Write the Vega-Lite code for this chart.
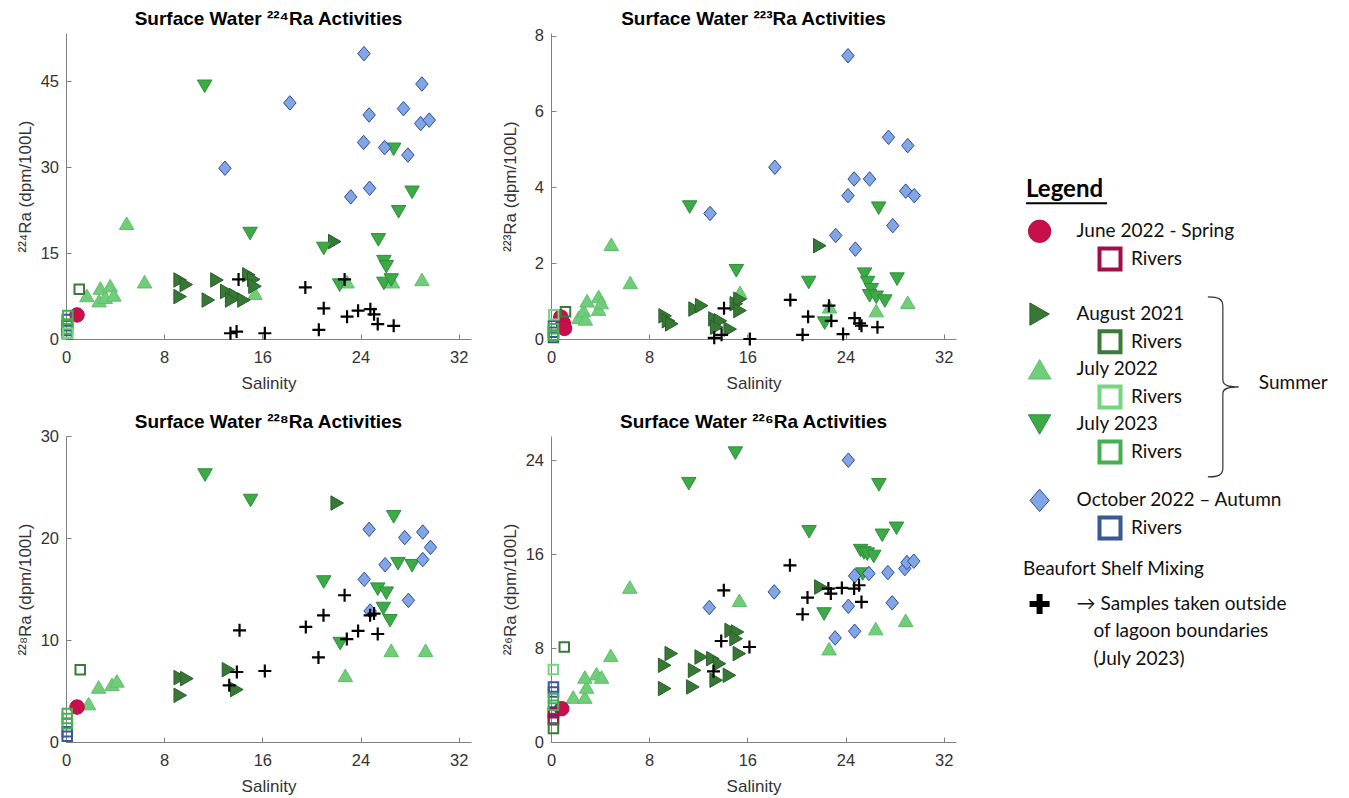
{
  "$schema": "https://vega.github.io/schema/vega-lite/v6.json",
  "background": "white",
  "padding": {"left": 16, "top": 9, "right": 2, "bottom": 2},
  "datasets": {
    "samples": [
      {"panel":"a","series":"July 2022","salinity":1.7,"activity":7.6},
      {"panel":"a","series":"July 2022","salinity":2.7,"activity":6.7},
      {"panel":"a","series":"July 2022","salinity":2.8,"activity":8.9},
      {"panel":"a","series":"July 2022","salinity":3.2,"activity":7.3},
      {"panel":"a","series":"July 2022","salinity":3.6,"activity":9.3},
      {"panel":"a","series":"July 2022","salinity":3.9,"activity":7.7},
      {"panel":"a","series":"July 2022","salinity":4.94,"activity":20.2},
      {"panel":"a","series":"July 2022","salinity":6.4,"activity":10.0},
      {"panel":"a","series":"July 2022","salinity":15.4,"activity":8.0},
      {"panel":"a","series":"July 2022","salinity":22.9,"activity":10.0},
      {"panel":"a","series":"July 2022","salinity":26.6,"activity":10.0},
      {"panel":"a","series":"July 2022","salinity":29.0,"activity":10.4},
      {"panel":"a","series":"August 2021","salinity":9.3,"activity":10.3},
      {"panel":"a","series":"August 2021","salinity":9.8,"activity":9.5},
      {"panel":"a","series":"August 2021","salinity":9.3,"activity":7.4},
      {"panel":"a","series":"August 2021","salinity":11.6,"activity":6.8},
      {"panel":"a","series":"August 2021","salinity":12.3,"activity":10.3},
      {"panel":"a","series":"August 2021","salinity":13.1,"activity":8.3},
      {"panel":"a","series":"August 2021","salinity":13.8,"activity":7.6},
      {"panel":"a","series":"August 2021","salinity":13.5,"activity":6.8},
      {"panel":"a","series":"August 2021","salinity":14.5,"activity":6.8},
      {"panel":"a","series":"August 2021","salinity":14.9,"activity":11.2},
      {"panel":"a","series":"August 2021","salinity":15.3,"activity":10.4},
      {"panel":"a","series":"August 2021","salinity":15.4,"activity":9.2},
      {"panel":"a","series":"August 2021","salinity":21.9,"activity":17.0},
      {"panel":"a","series":"July 2023","salinity":11.3,"activity":44.1},
      {"panel":"a","series":"July 2023","salinity":15.0,"activity":18.4},
      {"panel":"a","series":"July 2023","salinity":21.0,"activity":15.8},
      {"panel":"a","series":"July 2023","salinity":22.3,"activity":9.4},
      {"panel":"a","series":"July 2023","salinity":25.45,"activity":17.3},
      {"panel":"a","series":"July 2023","salinity":25.9,"activity":13.5},
      {"panel":"a","series":"July 2023","salinity":26.1,"activity":12.6},
      {"panel":"a","series":"July 2023","salinity":25.9,"activity":9.7},
      {"panel":"a","series":"July 2023","salinity":26.5,"activity":10.3},
      {"panel":"a","series":"July 2023","salinity":26.7,"activity":33.1},
      {"panel":"a","series":"July 2023","salinity":27.1,"activity":22.2},
      {"panel":"a","series":"July 2023","salinity":28.2,"activity":25.6},
      {"panel":"a","series":"October 2022","salinity":12.95,"activity":29.8},
      {"panel":"a","series":"October 2022","salinity":18.24,"activity":41.2},
      {"panel":"a","series":"October 2022","salinity":23.2,"activity":24.8},
      {"panel":"a","series":"October 2022","salinity":24.25,"activity":34.3},
      {"panel":"a","series":"October 2022","salinity":24.28,"activity":49.8},
      {"panel":"a","series":"October 2022","salinity":24.7,"activity":39.1},
      {"panel":"a","series":"October 2022","salinity":24.74,"activity":26.3},
      {"panel":"a","series":"October 2022","salinity":25.96,"activity":33.4},
      {"panel":"a","series":"October 2022","salinity":27.5,"activity":40.2},
      {"panel":"a","series":"October 2022","salinity":27.86,"activity":32.1},
      {"panel":"a","series":"October 2022","salinity":28.9,"activity":37.6},
      {"panel":"a","series":"October 2022","salinity":29.0,"activity":44.5},
      {"panel":"a","series":"October 2022","salinity":29.6,"activity":38.2},
      {"panel":"a","series":"June 2022","salinity":0.9,"activity":4.2},
      {"panel":"a","series":"October 2022 Rivers","salinity":0.1,"activity":3.4},
      {"panel":"a","series":"October 2022 Rivers","salinity":0.1,"activity":2.3},
      {"panel":"a","series":"October 2022 Rivers","salinity":0.1,"activity":1.5},
      {"panel":"a","series":"October 2022 Rivers","salinity":0.1,"activity":0.9},
      {"panel":"a","series":"July 2023 Rivers","salinity":0.15,"activity":4.1},
      {"panel":"a","series":"July 2023 Rivers","salinity":0.15,"activity":2.6},
      {"panel":"a","series":"July 2023 Rivers","salinity":0.15,"activity":1.8},
      {"panel":"a","series":"July 2022 Rivers","salinity":0.15,"activity":1.0},
      {"panel":"a","series":"August 2021 Rivers","salinity":1.08,"activity":8.7},
      {"panel":"a","series":"Beaufort Shelf Mixing","salinity":13.4,"activity":1.0},
      {"panel":"a","series":"Beaufort Shelf Mixing","salinity":13.9,"activity":1.3},
      {"panel":"a","series":"Beaufort Shelf Mixing","salinity":14.06,"activity":10.4},
      {"panel":"a","series":"Beaufort Shelf Mixing","salinity":16.2,"activity":1.0},
      {"panel":"a","series":"Beaufort Shelf Mixing","salinity":19.5,"activity":9.0},
      {"panel":"a","series":"Beaufort Shelf Mixing","salinity":20.6,"activity":1.6},
      {"panel":"a","series":"Beaufort Shelf Mixing","salinity":21.0,"activity":5.35},
      {"panel":"a","series":"Beaufort Shelf Mixing","salinity":22.7,"activity":10.4},
      {"panel":"a","series":"Beaufort Shelf Mixing","salinity":22.9,"activity":3.9},
      {"panel":"a","series":"Beaufort Shelf Mixing","salinity":23.8,"activity":4.95},
      {"panel":"a","series":"Beaufort Shelf Mixing","salinity":24.8,"activity":5.2},
      {"panel":"a","series":"Beaufort Shelf Mixing","salinity":25.1,"activity":4.3},
      {"panel":"a","series":"Beaufort Shelf Mixing","salinity":25.4,"activity":2.6},
      {"panel":"a","series":"Beaufort Shelf Mixing","salinity":26.7,"activity":2.3},

      {"panel":"b","series":"July 2022","salinity":2.26,"activity":0.57},
      {"panel":"b","series":"July 2022","salinity":2.66,"activity":0.75},
      {"panel":"b","series":"July 2022","salinity":2.8,"activity":0.53},
      {"panel":"b","series":"July 2022","salinity":2.94,"activity":1.01},
      {"panel":"b","series":"July 2022","salinity":3.88,"activity":1.12},
      {"panel":"b","series":"July 2022","salinity":3.88,"activity":0.79},
      {"panel":"b","series":"July 2022","salinity":4.1,"activity":0.96},
      {"panel":"b","series":"July 2022","salinity":4.91,"activity":2.5},
      {"panel":"b","series":"July 2022","salinity":6.46,"activity":1.49},
      {"panel":"b","series":"July 2022","salinity":15.4,"activity":1.23},
      {"panel":"b","series":"July 2022","salinity":22.7,"activity":0.85},
      {"panel":"b","series":"July 2022","salinity":26.5,"activity":0.75},
      {"panel":"b","series":"July 2022","salinity":29.07,"activity":0.97},
      {"panel":"b","series":"August 2021","salinity":9.3,"activity":0.61},
      {"panel":"b","series":"August 2021","salinity":9.57,"activity":0.48},
      {"panel":"b","series":"August 2021","salinity":9.84,"activity":0.4},
      {"panel":"b","series":"August 2021","salinity":11.74,"activity":0.79},
      {"panel":"b","series":"August 2021","salinity":12.28,"activity":0.88},
      {"panel":"b","series":"August 2021","salinity":13.36,"activity":0.53},
      {"panel":"b","series":"August 2021","salinity":13.8,"activity":0.48},
      {"panel":"b","series":"August 2021","salinity":13.5,"activity":0.31},
      {"panel":"b","series":"August 2021","salinity":14.6,"activity":0.26},
      {"panel":"b","series":"August 2021","salinity":15.1,"activity":0.93},
      {"panel":"b","series":"August 2021","salinity":15.4,"activity":1.05},
      {"panel":"b","series":"August 2021","salinity":15.4,"activity":0.75},
      {"panel":"b","series":"August 2021","salinity":21.9,"activity":2.46},
      {"panel":"b","series":"July 2023","salinity":11.3,"activity":3.48},
      {"panel":"b","series":"July 2023","salinity":15.1,"activity":1.8},
      {"panel":"b","series":"July 2023","salinity":21.0,"activity":1.49},
      {"panel":"b","series":"July 2023","salinity":22.3,"activity":0.42},
      {"panel":"b","series":"July 2023","salinity":25.55,"activity":1.71},
      {"panel":"b","series":"July 2023","salinity":25.8,"activity":1.49},
      {"panel":"b","series":"July 2023","salinity":26.1,"activity":1.3},
      {"panel":"b","series":"July 2023","salinity":25.96,"activity":1.14},
      {"panel":"b","series":"July 2023","salinity":26.5,"activity":1.1},
      {"panel":"b","series":"July 2023","salinity":26.7,"activity":3.45},
      {"panel":"b","series":"July 2023","salinity":27.2,"activity":1.0},
      {"panel":"b","series":"July 2023","salinity":28.2,"activity":1.58},
      {"panel":"b","series":"October 2022","salinity":12.96,"activity":3.31},
      {"panel":"b","series":"October 2022","salinity":18.24,"activity":4.53},
      {"panel":"b","series":"October 2022","salinity":23.2,"activity":2.73},
      {"panel":"b","series":"October 2022","salinity":24.2,"activity":3.78},
      {"panel":"b","series":"October 2022","salinity":24.2,"activity":7.47},
      {"panel":"b","series":"October 2022","salinity":24.7,"activity":4.22},
      {"panel":"b","series":"October 2022","salinity":24.8,"activity":2.37},
      {"panel":"b","series":"October 2022","salinity":25.96,"activity":4.22},
      {"panel":"b","series":"October 2022","salinity":27.5,"activity":5.32},
      {"panel":"b","series":"October 2022","salinity":27.85,"activity":2.99},
      {"panel":"b","series":"October 2022","salinity":28.9,"activity":3.9},
      {"panel":"b","series":"October 2022","salinity":29.07,"activity":5.1},
      {"panel":"b","series":"October 2022","salinity":29.6,"activity":3.78},
      {"panel":"b","series":"June 2022","salinity":0.8,"activity":0.58},
      {"panel":"b","series":"June 2022","salinity":1.0,"activity":0.42},
      {"panel":"b","series":"June 2022","salinity":1.1,"activity":0.28},
      {"panel":"b","series":"October 2022 Rivers","salinity":0.2,"activity":0.35},
      {"panel":"b","series":"October 2022 Rivers","salinity":0.2,"activity":0.18},
      {"panel":"b","series":"October 2022 Rivers","salinity":0.2,"activity":0.04},
      {"panel":"b","series":"July 2023 Rivers","salinity":0.2,"activity":0.27},
      {"panel":"b","series":"July 2023 Rivers","salinity":0.2,"activity":0.1},
      {"panel":"b","series":"July 2022 Rivers","salinity":0.23,"activity":0.64},
      {"panel":"b","series":"August 2021 Rivers","salinity":1.18,"activity":0.72},
      {"panel":"b","series":"Beaufort Shelf Mixing","salinity":13.3,"activity":0.03},
      {"panel":"b","series":"Beaufort Shelf Mixing","salinity":13.9,"activity":0.11},
      {"panel":"b","series":"Beaufort Shelf Mixing","salinity":14.1,"activity":0.81},
      {"panel":"b","series":"Beaufort Shelf Mixing","salinity":16.2,"activity":0.0},
      {"panel":"b","series":"Beaufort Shelf Mixing","salinity":19.5,"activity":1.03},
      {"panel":"b","series":"Beaufort Shelf Mixing","salinity":20.5,"activity":0.11},
      {"panel":"b","series":"Beaufort Shelf Mixing","salinity":20.95,"activity":0.59},
      {"panel":"b","series":"Beaufort Shelf Mixing","salinity":22.65,"activity":0.88},
      {"panel":"b","series":"Beaufort Shelf Mixing","salinity":22.84,"activity":0.48},
      {"panel":"b","series":"Beaufort Shelf Mixing","salinity":23.8,"activity":0.13},
      {"panel":"b","series":"Beaufort Shelf Mixing","salinity":24.74,"activity":0.55},
      {"panel":"b","series":"Beaufort Shelf Mixing","salinity":25.14,"activity":0.41},
      {"panel":"b","series":"Beaufort Shelf Mixing","salinity":25.3,"activity":0.35},
      {"panel":"b","series":"Beaufort Shelf Mixing","salinity":26.6,"activity":0.31},

      {"panel":"c","series":"July 2022","salinity":1.84,"activity":3.77},
      {"panel":"c","series":"July 2022","salinity":2.66,"activity":5.4},
      {"panel":"c","series":"July 2022","salinity":3.75,"activity":5.66},
      {"panel":"c","series":"July 2022","salinity":4.15,"activity":6.0},
      {"panel":"c","series":"July 2022","salinity":22.76,"activity":6.54},
      {"panel":"c","series":"July 2022","salinity":26.5,"activity":9.0},
      {"panel":"c","series":"July 2022","salinity":29.3,"activity":9.0},
      {"panel":"c","series":"August 2021","salinity":9.31,"activity":6.32},
      {"panel":"c","series":"August 2021","salinity":9.85,"activity":6.22},
      {"panel":"c","series":"August 2021","salinity":9.31,"activity":4.58},
      {"panel":"c","series":"August 2021","salinity":13.24,"activity":7.1},
      {"panel":"c","series":"August 2021","salinity":13.92,"activity":5.14},
      {"panel":"c","series":"August 2021","salinity":22.1,"activity":23.45},
      {"panel":"c","series":"July 2023","salinity":11.33,"activity":26.2},
      {"panel":"c","series":"July 2023","salinity":15.04,"activity":23.7},
      {"panel":"c","series":"July 2023","salinity":21.0,"activity":15.7},
      {"panel":"c","series":"July 2023","salinity":22.34,"activity":9.66},
      {"panel":"c","series":"July 2023","salinity":25.4,"activity":15.0},
      {"panel":"c","series":"July 2023","salinity":26.1,"activity":14.6},
      {"panel":"c","series":"July 2023","salinity":25.86,"activity":13.1},
      {"panel":"c","series":"July 2023","salinity":26.4,"activity":11.9},
      {"panel":"c","series":"July 2023","salinity":26.7,"activity":22.1},
      {"panel":"c","series":"July 2023","salinity":27.05,"activity":17.5},
      {"panel":"c","series":"July 2023","salinity":28.2,"activity":17.3},
      {"panel":"c","series":"October 2022","salinity":24.3,"activity":15.96},
      {"panel":"c","series":"October 2022","salinity":24.7,"activity":20.87},
      {"panel":"c","series":"October 2022","salinity":24.78,"activity":12.85},
      {"panel":"c","series":"October 2022","salinity":26.0,"activity":17.4},
      {"panel":"c","series":"October 2022","salinity":27.6,"activity":20.06},
      {"panel":"c","series":"October 2022","salinity":27.9,"activity":13.9},
      {"panel":"c","series":"October 2022","salinity":29.07,"activity":20.6},
      {"panel":"c","series":"October 2022","salinity":29.07,"activity":17.9},
      {"panel":"c","series":"October 2022","salinity":29.7,"activity":19.1},
      {"panel":"c","series":"June 2022","salinity":0.9,"activity":3.43},
      {"panel":"c","series":"October 2022 Rivers","salinity":0.1,"activity":1.0},
      {"panel":"c","series":"October 2022 Rivers","salinity":0.1,"activity":0.56},
      {"panel":"c","series":"July 2023 Rivers","salinity":0.1,"activity":2.8},
      {"panel":"c","series":"July 2023 Rivers","salinity":0.1,"activity":2.3},
      {"panel":"c","series":"July 2023 Rivers","salinity":0.1,"activity":1.8},
      {"panel":"c","series":"August 2021 Rivers","salinity":1.16,"activity":7.1},
      {"panel":"c","series":"Beaufort Shelf Mixing","salinity":13.3,"activity":5.56},
      {"panel":"c","series":"Beaufort Shelf Mixing","salinity":13.92,"activity":6.87},
      {"panel":"c","series":"Beaufort Shelf Mixing","salinity":14.14,"activity":10.96},
      {"panel":"c","series":"Beaufort Shelf Mixing","salinity":16.2,"activity":6.97},
      {"panel":"c","series":"Beaufort Shelf Mixing","salinity":19.54,"activity":11.29},
      {"panel":"c","series":"Beaufort Shelf Mixing","salinity":20.57,"activity":8.3},
      {"panel":"c","series":"Beaufort Shelf Mixing","salinity":20.98,"activity":12.43},
      {"panel":"c","series":"Beaufort Shelf Mixing","salinity":22.7,"activity":14.4},
      {"panel":"c","series":"Beaufort Shelf Mixing","salinity":22.88,"activity":10.1},
      {"panel":"c","series":"Beaufort Shelf Mixing","salinity":23.8,"activity":10.9},
      {"panel":"c","series":"Beaufort Shelf Mixing","salinity":24.78,"activity":12.43},
      {"panel":"c","series":"Beaufort Shelf Mixing","salinity":25.1,"activity":12.6},
      {"panel":"c","series":"Beaufort Shelf Mixing","salinity":25.4,"activity":10.6},

      {"panel":"d","series":"July 2022","salinity":1.81,"activity":3.83},
      {"panel":"d","series":"July 2022","salinity":2.76,"activity":3.83},
      {"panel":"d","series":"July 2022","salinity":2.9,"activity":4.69},
      {"panel":"d","series":"July 2022","salinity":2.76,"activity":5.54},
      {"panel":"d","series":"July 2022","salinity":3.71,"activity":5.82},
      {"panel":"d","series":"July 2022","salinity":4.12,"activity":5.54},
      {"panel":"d","series":"July 2022","salinity":4.87,"activity":7.38},
      {"panel":"d","series":"July 2022","salinity":6.42,"activity":13.2},
      {"panel":"d","series":"July 2022","salinity":15.35,"activity":12.07},
      {"panel":"d","series":"July 2022","salinity":22.66,"activity":7.95},
      {"panel":"d","series":"July 2022","salinity":26.46,"activity":9.66},
      {"panel":"d","series":"July 2022","salinity":28.9,"activity":10.37},
      {"panel":"d","series":"August 2021","salinity":9.26,"activity":4.55},
      {"panel":"d","series":"August 2021","salinity":9.26,"activity":6.53},
      {"panel":"d","series":"August 2021","salinity":9.8,"activity":7.53},
      {"panel":"d","series":"August 2021","salinity":11.56,"activity":4.69},
      {"panel":"d","series":"August 2021","salinity":11.7,"activity":6.1},
      {"panel":"d","series":"August 2021","salinity":12.24,"activity":7.24},
      {"panel":"d","series":"August 2021","salinity":13.19,"activity":7.1},
      {"panel":"d","series":"August 2021","salinity":13.46,"activity":5.26},
      {"panel":"d","series":"August 2021","salinity":13.73,"activity":6.67},
      {"panel":"d","series":"August 2021","salinity":14.54,"activity":5.68},
      {"panel":"d","series":"August 2021","salinity":14.68,"activity":9.5},
      {"panel":"d","series":"August 2021","salinity":15.2,"activity":9.37},
      {"panel":"d","series":"August 2021","salinity":15.08,"activity":8.8},
      {"panel":"d","series":"August 2021","salinity":15.35,"activity":7.53},
      {"panel":"d","series":"August 2021","salinity":21.99,"activity":13.2},
      {"panel":"d","series":"July 2023","salinity":11.23,"activity":22.0},
      {"panel":"d","series":"July 2023","salinity":15.02,"activity":24.6},
      {"panel":"d","series":"July 2023","salinity":21.03,"activity":17.9},
      {"panel":"d","series":"July 2023","salinity":22.25,"activity":10.9},
      {"panel":"d","series":"July 2023","salinity":25.23,"activity":16.3},
      {"panel":"d","series":"July 2023","salinity":25.5,"activity":16.1},
      {"panel":"d","series":"July 2023","salinity":25.77,"activity":16.0},
      {"panel":"d","series":"July 2023","salinity":26.3,"activity":15.8},
      {"panel":"d","series":"July 2023","salinity":25.4,"activity":14.3},
      {"panel":"d","series":"July 2023","salinity":26.72,"activity":21.9},
      {"panel":"d","series":"July 2023","salinity":26.99,"activity":17.6},
      {"panel":"d","series":"July 2023","salinity":28.15,"activity":18.2},
      {"panel":"d","series":"October 2022","salinity":12.9,"activity":11.45},
      {"panel":"d","series":"October 2022","salinity":18.19,"activity":12.78},
      {"panel":"d","series":"October 2022","salinity":23.15,"activity":8.86},
      {"panel":"d","series":"October 2022","salinity":24.23,"activity":11.56},
      {"panel":"d","series":"October 2022","salinity":24.23,"activity":24.0},
      {"panel":"d","series":"October 2022","salinity":24.74,"activity":14.15},
      {"panel":"d","series":"October 2022","salinity":24.74,"activity":9.43},
      {"panel":"d","series":"October 2022","salinity":25.9,"activity":14.35},
      {"panel":"d","series":"October 2022","salinity":27.45,"activity":14.43},
      {"panel":"d","series":"October 2022","salinity":27.8,"activity":11.85},
      {"panel":"d","series":"October 2022","salinity":28.83,"activity":14.77},
      {"panel":"d","series":"October 2022","salinity":29.0,"activity":15.28},
      {"panel":"d","series":"October 2022","salinity":29.56,"activity":15.4},
      {"panel":"d","series":"June 2022","salinity":0.87,"activity":2.84},
      {"panel":"d","series":"October 2022 Rivers","salinity":0.2,"activity":4.69},
      {"panel":"d","series":"October 2022 Rivers","salinity":0.2,"activity":4.26},
      {"panel":"d","series":"October 2022 Rivers","salinity":0.2,"activity":2.56},
      {"panel":"d","series":"October 2022 Rivers","salinity":0.2,"activity":2.0},
      {"panel":"d","series":"June 2022 Rivers","salinity":0.2,"activity":2.5},
      {"panel":"d","series":"June 2022 Rivers","salinity":0.2,"activity":1.9},
      {"panel":"d","series":"July 2023 Rivers","salinity":0.2,"activity":3.7},
      {"panel":"d","series":"July 2023 Rivers","salinity":0.2,"activity":3.13},
      {"panel":"d","series":"July 2022 Rivers","salinity":0.19,"activity":6.17},
      {"panel":"d","series":"August 2021 Rivers","salinity":1.08,"activity":8.1},
      {"panel":"d","series":"August 2021 Rivers","salinity":0.2,"activity":1.14},
      {"panel":"d","series":"Beaufort Shelf Mixing","salinity":13.24,"activity":6.02},
      {"panel":"d","series":"Beaufort Shelf Mixing","salinity":13.87,"activity":8.6},
      {"panel":"d","series":"Beaufort Shelf Mixing","salinity":14.08,"activity":12.92},
      {"panel":"d","series":"Beaufort Shelf Mixing","salinity":16.17,"activity":8.09},
      {"panel":"d","series":"Beaufort Shelf Mixing","salinity":19.47,"activity":15.05},
      {"panel":"d","series":"Beaufort Shelf Mixing","salinity":20.5,"activity":10.88},
      {"panel":"d","series":"Beaufort Shelf Mixing","salinity":20.9,"activity":12.3},
      {"panel":"d","series":"Beaufort Shelf Mixing","salinity":22.6,"activity":13.07},
      {"panel":"d","series":"Beaufort Shelf Mixing","salinity":22.8,"activity":12.64},
      {"panel":"d","series":"Beaufort Shelf Mixing","salinity":23.7,"activity":13.12},
      {"panel":"d","series":"Beaufort Shelf Mixing","salinity":24.7,"activity":13.07},
      {"panel":"d","series":"Beaufort Shelf Mixing","salinity":25.1,"activity":13.35},
      {"panel":"d","series":"Beaufort Shelf Mixing","salinity":25.3,"activity":11.93}
    ],
    "letters": [
      {"panel":"a","letter":"a"},
      {"panel":"b","letter":"b"},
      {"panel":"c","letter":"c"},
      {"panel":"d","letter":"d"}
    ],
    "legend": [
      {"key":"Legend","label":"Legend","tier":"heading"},
      {"key":"June 2022","label":"June 2022 - Spring","tier":"main","series":"June 2022"},
      {"key":"June 2022 Rivers","label":"Rivers","tier":"sub","series":"June 2022 Rivers"},
      {"key":"August 2021","label":"August 2021","tier":"main","series":"August 2021"},
      {"key":"August 2021 Rivers","label":"Rivers","tier":"sub","series":"August 2021 Rivers"},
      {"key":"July 2022","label":"July 2022","tier":"main","series":"July 2022"},
      {"key":"July 2022 Rivers","label":"Rivers","tier":"sub","series":"July 2022 Rivers"},
      {"key":"July 2023","label":"July 2023","tier":"main","series":"July 2023"},
      {"key":"July 2023 Rivers","label":"Rivers","tier":"sub","series":"July 2023 Rivers"},
      {"key":"Summer","label":"Summer","tier":"group"},
      {"key":"October 2022","label":"October 2022 – Autumn","tier":"main","series":"October 2022"},
      {"key":"October 2022 Rivers","label":"Rivers","tier":"sub","series":"October 2022 Rivers"},
      {"key":"Beaufort heading","label":"Beaufort Shelf Mixing","tier":"note"},
      {"key":"Beaufort Shelf Mixing","label":"→ Samples taken outside","tier":"main","series":"Beaufort Shelf Mixing"},
      {"key":"note line 2","label":"of lagoon boundaries","tier":"indent"},
      {"key":"note line 3","label":"(July 2023)","tier":"indent"}
    ]
  },
  "hconcat": [
    {
      "vconcat": [
        {
          "hconcat": [
            {
              "width": 405, "height": 306,
              "title": {"text": "Surface Water ²²⁴Ra Activities", "offset": 4},
              "data": {"name": "samples"},
              "encoding": {
                "x": {"field": "salinity", "type": "quantitative", "scale": {"domain": [0, 33], "nice": false}, "axis": {"title": "Salinity", "values": [0, 8, 16, 24, 32]}},
                "y": {"field": "activity", "type": "quantitative", "scale": {"domain": [0, 53.4], "nice": false}, "axis": {"title": "²²⁴Ra (dpm/100L)", "values": [0, 15, 30, 45]}}
              },
              "layer": [
                {
                  "transform": [{"filter": "datum.panel === 'a' && indexof(['June 2022','August 2021','July 2022','July 2023','October 2022'], datum.series) >= 0"}],
                  "mark": {"type": "point", "filled": true, "size": 210, "strokeWidth": 1, "opacity": 1},
                  "encoding": {
                    "shape": {"field": "series", "type": "nominal", "legend": null, "scale": {"domain": ["June 2022","June 2022 Rivers","August 2021","August 2021 Rivers","July 2022","July 2022 Rivers","July 2023","July 2023 Rivers","October 2022","October 2022 Rivers","Beaufort Shelf Mixing"], "range": ["circle","square","triangle-right","square","triangle-up","square","triangle-down","square","M0,-1L0.86,0L0,1L-0.86,0Z","square","M-1,0H1M0,-1V1"]}},
                    "fill": {"field": "series", "type": "nominal", "legend": null, "scale": {"domain": ["June 2022","June 2022 Rivers","August 2021","August 2021 Rivers","July 2022","July 2022 Rivers","July 2023","July 2023 Rivers","October 2022","October 2022 Rivers","Beaufort Shelf Mixing"], "range": ["#C80F4B","transparent","#377837","transparent","#70CE7A","transparent","#3CAA46","transparent","#82A5E6","transparent","transparent"]}},
                    "stroke": {"field": "series", "type": "nominal", "legend": null, "scale": {"domain": ["June 2022","June 2022 Rivers","August 2021","August 2021 Rivers","July 2022","July 2022 Rivers","July 2023","July 2023 Rivers","October 2022","October 2022 Rivers","Beaufort Shelf Mixing"], "range": ["#B00D42","#A01048","#2A5E2A","#3A7A3A","#5EBE69","#74D67E","#2F8F39","#45B04F","#2D4B96","#3B5796","#000000"]}}
                  }
                },
                {
                  "transform": [{"filter": "datum.panel === 'a' && indexof(datum.series, 'Rivers') >= 0"}],
                  "mark": {"type": "point", "filled": false, "size": 90, "strokeWidth": 2, "opacity": 1},
                  "encoding": {
                    "shape": {"field": "series", "type": "nominal", "legend": null, "scale": {"domain": ["June 2022","June 2022 Rivers","August 2021","August 2021 Rivers","July 2022","July 2022 Rivers","July 2023","July 2023 Rivers","October 2022","October 2022 Rivers","Beaufort Shelf Mixing"], "range": ["circle","square","triangle-right","square","triangle-up","square","triangle-down","square","M0,-1L0.86,0L0,1L-0.86,0Z","square","M-1,0H1M0,-1V1"]}},
                    "stroke": {"field": "series", "type": "nominal", "legend": null, "scale": {"domain": ["June 2022","June 2022 Rivers","August 2021","August 2021 Rivers","July 2022","July 2022 Rivers","July 2023","July 2023 Rivers","October 2022","October 2022 Rivers","Beaufort Shelf Mixing"], "range": ["#B00D42","#A01048","#2A5E2A","#3A7A3A","#5EBE69","#74D67E","#2F8F39","#45B04F","#2D4B96","#3B5796","#000000"]}}
                  }
                },
                {
                  "transform": [{"filter": "datum.panel === 'a' && datum.series === 'Beaufort Shelf Mixing'"}],
                  "mark": {"type": "point", "filled": false, "size": 169, "strokeWidth": 2.2, "opacity": 1},
                  "encoding": {
                    "shape": {"field": "series", "type": "nominal", "legend": null, "scale": {"domain": ["June 2022","June 2022 Rivers","August 2021","August 2021 Rivers","July 2022","July 2022 Rivers","July 2023","July 2023 Rivers","October 2022","October 2022 Rivers","Beaufort Shelf Mixing"], "range": ["circle","square","triangle-right","square","triangle-up","square","triangle-down","square","M0,-1L0.86,0L0,1L-0.86,0Z","square","M-1,0H1M0,-1V1"]}},
                    "stroke": {"field": "series", "type": "nominal", "legend": null, "scale": {"domain": ["June 2022","June 2022 Rivers","August 2021","August 2021 Rivers","July 2022","July 2022 Rivers","July 2023","July 2023 Rivers","October 2022","October 2022 Rivers","Beaufort Shelf Mixing"], "range": ["#B00D42","#A01048","#2A5E2A","#3A7A3A","#5EBE69","#74D67E","#2F8F39","#45B04F","#2D4B96","#3B5796","#000000"]}}
                  }
                },
                {
                  "data": {"name": "letters"},
                  "transform": [{"filter": "datum.panel === 'a'"}],
                  "mark": {"type": "text", "font": "Lato", "fontSize": 25, "align": "left", "baseline": "alphabetic", "color": "#000000"},
                  "encoding": {"x": {"datum": 1.87, "type": "quantitative"}, "y": {"datum": 47.3, "type": "quantitative"}, "text": {"field": "letter"}}
                }
              ]
            },
            {
              "width": 405, "height": 306,
              "title": {"text": "Surface Water ²²³Ra Activities", "offset": -1},
              "data": {"name": "samples"},
              "encoding": {
                "x": {"field": "salinity", "type": "quantitative", "scale": {"domain": [0, 33], "nice": false}, "axis": {"title": "Salinity", "values": [0, 8, 16, 24, 32]}},
                "y": {"field": "activity", "type": "quantitative", "scale": {"domain": [0, 8.07], "nice": false}, "axis": {"title": "²²³Ra (dpm/100L)", "values": [0, 2, 4, 6, 8]}}
              },
              "layer": [
                {
                  "transform": [{"filter": "datum.panel === 'b' && indexof(['June 2022','August 2021','July 2022','July 2023','October 2022'], datum.series) >= 0"}],
                  "mark": {"type": "point", "filled": true, "size": 210, "strokeWidth": 1, "opacity": 1},
                  "encoding": {
                    "shape": {"field": "series", "type": "nominal", "legend": null, "scale": {"domain": ["June 2022","June 2022 Rivers","August 2021","August 2021 Rivers","July 2022","July 2022 Rivers","July 2023","July 2023 Rivers","October 2022","October 2022 Rivers","Beaufort Shelf Mixing"], "range": ["circle","square","triangle-right","square","triangle-up","square","triangle-down","square","M0,-1L0.86,0L0,1L-0.86,0Z","square","M-1,0H1M0,-1V1"]}},
                    "fill": {"field": "series", "type": "nominal", "legend": null, "scale": {"domain": ["June 2022","June 2022 Rivers","August 2021","August 2021 Rivers","July 2022","July 2022 Rivers","July 2023","July 2023 Rivers","October 2022","October 2022 Rivers","Beaufort Shelf Mixing"], "range": ["#C80F4B","transparent","#377837","transparent","#70CE7A","transparent","#3CAA46","transparent","#82A5E6","transparent","transparent"]}},
                    "stroke": {"field": "series", "type": "nominal", "legend": null, "scale": {"domain": ["June 2022","June 2022 Rivers","August 2021","August 2021 Rivers","July 2022","July 2022 Rivers","July 2023","July 2023 Rivers","October 2022","October 2022 Rivers","Beaufort Shelf Mixing"], "range": ["#B00D42","#A01048","#2A5E2A","#3A7A3A","#5EBE69","#74D67E","#2F8F39","#45B04F","#2D4B96","#3B5796","#000000"]}}
                  }
                },
                {
                  "transform": [{"filter": "datum.panel === 'b' && indexof(datum.series, 'Rivers') >= 0"}],
                  "mark": {"type": "point", "filled": false, "size": 90, "strokeWidth": 2, "opacity": 1},
                  "encoding": {
                    "shape": {"field": "series", "type": "nominal", "legend": null, "scale": {"domain": ["June 2022","June 2022 Rivers","August 2021","August 2021 Rivers","July 2022","July 2022 Rivers","July 2023","July 2023 Rivers","October 2022","October 2022 Rivers","Beaufort Shelf Mixing"], "range": ["circle","square","triangle-right","square","triangle-up","square","triangle-down","square","M0,-1L0.86,0L0,1L-0.86,0Z","square","M-1,0H1M0,-1V1"]}},
                    "stroke": {"field": "series", "type": "nominal", "legend": null, "scale": {"domain": ["June 2022","June 2022 Rivers","August 2021","August 2021 Rivers","July 2022","July 2022 Rivers","July 2023","July 2023 Rivers","October 2022","October 2022 Rivers","Beaufort Shelf Mixing"], "range": ["#B00D42","#A01048","#2A5E2A","#3A7A3A","#5EBE69","#74D67E","#2F8F39","#45B04F","#2D4B96","#3B5796","#000000"]}}
                  }
                },
                {
                  "transform": [{"filter": "datum.panel === 'b' && datum.series === 'Beaufort Shelf Mixing'"}],
                  "mark": {"type": "point", "filled": false, "size": 169, "strokeWidth": 2.2, "opacity": 1},
                  "encoding": {
                    "shape": {"field": "series", "type": "nominal", "legend": null, "scale": {"domain": ["June 2022","June 2022 Rivers","August 2021","August 2021 Rivers","July 2022","July 2022 Rivers","July 2023","July 2023 Rivers","October 2022","October 2022 Rivers","Beaufort Shelf Mixing"], "range": ["circle","square","triangle-right","square","triangle-up","square","triangle-down","square","M0,-1L0.86,0L0,1L-0.86,0Z","square","M-1,0H1M0,-1V1"]}},
                    "stroke": {"field": "series", "type": "nominal", "legend": null, "scale": {"domain": ["June 2022","June 2022 Rivers","August 2021","August 2021 Rivers","July 2022","July 2022 Rivers","July 2023","July 2023 Rivers","October 2022","October 2022 Rivers","Beaufort Shelf Mixing"], "range": ["#B00D42","#A01048","#2A5E2A","#3A7A3A","#5EBE69","#74D67E","#2F8F39","#45B04F","#2D4B96","#3B5796","#000000"]}}
                  }
                },
                {
                  "data": {"name": "letters"},
                  "transform": [{"filter": "datum.panel === 'b'"}],
                  "mark": {"type": "text", "font": "Lato", "fontSize": 25, "align": "left", "baseline": "alphabetic", "color": "#000000"},
                  "encoding": {"x": {"datum": 2.36, "type": "quantitative"}, "y": {"datum": 7.12, "type": "quantitative"}, "text": {"field": "letter"}}
                }
              ]
            }
          ],
          "spacing": 30
        },
        {
          "hconcat": [
            {
              "width": 405, "height": 306,
              "title": {"text": "Surface Water ²²⁸Ra Activities", "offset": -4},
              "data": {"name": "samples"},
              "encoding": {
                "x": {"field": "salinity", "type": "quantitative", "scale": {"domain": [0, 33], "nice": false}, "axis": {"title": "Salinity", "values": [0, 8, 16, 24, 32]}},
                "y": {"field": "activity", "type": "quantitative", "scale": {"domain": [0, 30.03], "nice": false}, "axis": {"title": "²²⁸Ra (dpm/100L)", "values": [0, 10, 20, 30]}}
              },
              "layer": [
                {
                  "transform": [{"filter": "datum.panel === 'c' && indexof(['June 2022','August 2021','July 2022','July 2023','October 2022'], datum.series) >= 0"}],
                  "mark": {"type": "point", "filled": true, "size": 210, "strokeWidth": 1, "opacity": 1},
                  "encoding": {
                    "shape": {"field": "series", "type": "nominal", "legend": null, "scale": {"domain": ["June 2022","June 2022 Rivers","August 2021","August 2021 Rivers","July 2022","July 2022 Rivers","July 2023","July 2023 Rivers","October 2022","October 2022 Rivers","Beaufort Shelf Mixing"], "range": ["circle","square","triangle-right","square","triangle-up","square","triangle-down","square","M0,-1L0.86,0L0,1L-0.86,0Z","square","M-1,0H1M0,-1V1"]}},
                    "fill": {"field": "series", "type": "nominal", "legend": null, "scale": {"domain": ["June 2022","June 2022 Rivers","August 2021","August 2021 Rivers","July 2022","July 2022 Rivers","July 2023","July 2023 Rivers","October 2022","October 2022 Rivers","Beaufort Shelf Mixing"], "range": ["#C80F4B","transparent","#377837","transparent","#70CE7A","transparent","#3CAA46","transparent","#82A5E6","transparent","transparent"]}},
                    "stroke": {"field": "series", "type": "nominal", "legend": null, "scale": {"domain": ["June 2022","June 2022 Rivers","August 2021","August 2021 Rivers","July 2022","July 2022 Rivers","July 2023","July 2023 Rivers","October 2022","October 2022 Rivers","Beaufort Shelf Mixing"], "range": ["#B00D42","#A01048","#2A5E2A","#3A7A3A","#5EBE69","#74D67E","#2F8F39","#45B04F","#2D4B96","#3B5796","#000000"]}}
                  }
                },
                {
                  "transform": [{"filter": "datum.panel === 'c' && indexof(datum.series, 'Rivers') >= 0"}],
                  "mark": {"type": "point", "filled": false, "size": 90, "strokeWidth": 2, "opacity": 1},
                  "encoding": {
                    "shape": {"field": "series", "type": "nominal", "legend": null, "scale": {"domain": ["June 2022","June 2022 Rivers","August 2021","August 2021 Rivers","July 2022","July 2022 Rivers","July 2023","July 2023 Rivers","October 2022","October 2022 Rivers","Beaufort Shelf Mixing"], "range": ["circle","square","triangle-right","square","triangle-up","square","triangle-down","square","M0,-1L0.86,0L0,1L-0.86,0Z","square","M-1,0H1M0,-1V1"]}},
                    "stroke": {"field": "series", "type": "nominal", "legend": null, "scale": {"domain": ["June 2022","June 2022 Rivers","August 2021","August 2021 Rivers","July 2022","July 2022 Rivers","July 2023","July 2023 Rivers","October 2022","October 2022 Rivers","Beaufort Shelf Mixing"], "range": ["#B00D42","#A01048","#2A5E2A","#3A7A3A","#5EBE69","#74D67E","#2F8F39","#45B04F","#2D4B96","#3B5796","#000000"]}}
                  }
                },
                {
                  "transform": [{"filter": "datum.panel === 'c' && datum.series === 'Beaufort Shelf Mixing'"}],
                  "mark": {"type": "point", "filled": false, "size": 169, "strokeWidth": 2.2, "opacity": 1},
                  "encoding": {
                    "shape": {"field": "series", "type": "nominal", "legend": null, "scale": {"domain": ["June 2022","June 2022 Rivers","August 2021","August 2021 Rivers","July 2022","July 2022 Rivers","July 2023","July 2023 Rivers","October 2022","October 2022 Rivers","Beaufort Shelf Mixing"], "range": ["circle","square","triangle-right","square","triangle-up","square","triangle-down","square","M0,-1L0.86,0L0,1L-0.86,0Z","square","M-1,0H1M0,-1V1"]}},
                    "stroke": {"field": "series", "type": "nominal", "legend": null, "scale": {"domain": ["June 2022","June 2022 Rivers","August 2021","August 2021 Rivers","July 2022","July 2022 Rivers","July 2023","July 2023 Rivers","October 2022","October 2022 Rivers","Beaufort Shelf Mixing"], "range": ["#B00D42","#A01048","#2A5E2A","#3A7A3A","#5EBE69","#74D67E","#2F8F39","#45B04F","#2D4B96","#3B5796","#000000"]}}
                  }
                },
                {
                  "data": {"name": "letters"},
                  "transform": [{"filter": "datum.panel === 'c'"}],
                  "mark": {"type": "text", "font": "Lato", "fontSize": 25, "align": "left", "baseline": "alphabetic", "color": "#000000"},
                  "encoding": {"x": {"datum": 1.9, "type": "quantitative"}, "y": {"datum": 27.0, "type": "quantitative"}, "text": {"field": "letter"}}
                }
              ]
            },
            {
              "width": 405, "height": 306,
              "title": {"text": "Surface Water ²²⁶Ra Activities", "offset": 4},
              "data": {"name": "samples"},
              "encoding": {
                "x": {"field": "salinity", "type": "quantitative", "scale": {"domain": [0, 33], "nice": false}, "axis": {"title": "Salinity", "values": [0, 8, 16, 24, 32]}},
                "y": {"field": "activity", "type": "quantitative", "scale": {"domain": [0, 26.06], "nice": false}, "axis": {"title": "²²⁶Ra (dpm/100L)", "values": [0, 8, 16, 24]}}
              },
              "layer": [
                {
                  "transform": [{"filter": "datum.panel === 'd' && indexof(['June 2022','August 2021','July 2022','July 2023','October 2022'], datum.series) >= 0"}],
                  "mark": {"type": "point", "filled": true, "size": 210, "strokeWidth": 1, "opacity": 1},
                  "encoding": {
                    "shape": {"field": "series", "type": "nominal", "legend": null, "scale": {"domain": ["June 2022","June 2022 Rivers","August 2021","August 2021 Rivers","July 2022","July 2022 Rivers","July 2023","July 2023 Rivers","October 2022","October 2022 Rivers","Beaufort Shelf Mixing"], "range": ["circle","square","triangle-right","square","triangle-up","square","triangle-down","square","M0,-1L0.86,0L0,1L-0.86,0Z","square","M-1,0H1M0,-1V1"]}},
                    "fill": {"field": "series", "type": "nominal", "legend": null, "scale": {"domain": ["June 2022","June 2022 Rivers","August 2021","August 2021 Rivers","July 2022","July 2022 Rivers","July 2023","July 2023 Rivers","October 2022","October 2022 Rivers","Beaufort Shelf Mixing"], "range": ["#C80F4B","transparent","#377837","transparent","#70CE7A","transparent","#3CAA46","transparent","#82A5E6","transparent","transparent"]}},
                    "stroke": {"field": "series", "type": "nominal", "legend": null, "scale": {"domain": ["June 2022","June 2022 Rivers","August 2021","August 2021 Rivers","July 2022","July 2022 Rivers","July 2023","July 2023 Rivers","October 2022","October 2022 Rivers","Beaufort Shelf Mixing"], "range": ["#B00D42","#A01048","#2A5E2A","#3A7A3A","#5EBE69","#74D67E","#2F8F39","#45B04F","#2D4B96","#3B5796","#000000"]}}
                  }
                },
                {
                  "transform": [{"filter": "datum.panel === 'd' && indexof(datum.series, 'Rivers') >= 0"}],
                  "mark": {"type": "point", "filled": false, "size": 90, "strokeWidth": 2, "opacity": 1},
                  "encoding": {
                    "shape": {"field": "series", "type": "nominal", "legend": null, "scale": {"domain": ["June 2022","June 2022 Rivers","August 2021","August 2021 Rivers","July 2022","July 2022 Rivers","July 2023","July 2023 Rivers","October 2022","October 2022 Rivers","Beaufort Shelf Mixing"], "range": ["circle","square","triangle-right","square","triangle-up","square","triangle-down","square","M0,-1L0.86,0L0,1L-0.86,0Z","square","M-1,0H1M0,-1V1"]}},
                    "stroke": {"field": "series", "type": "nominal", "legend": null, "scale": {"domain": ["June 2022","June 2022 Rivers","August 2021","August 2021 Rivers","July 2022","July 2022 Rivers","July 2023","July 2023 Rivers","October 2022","October 2022 Rivers","Beaufort Shelf Mixing"], "range": ["#B00D42","#A01048","#2A5E2A","#3A7A3A","#5EBE69","#74D67E","#2F8F39","#45B04F","#2D4B96","#3B5796","#000000"]}}
                  }
                },
                {
                  "transform": [{"filter": "datum.panel === 'd' && datum.series === 'Beaufort Shelf Mixing'"}],
                  "mark": {"type": "point", "filled": false, "size": 169, "strokeWidth": 2.2, "opacity": 1},
                  "encoding": {
                    "shape": {"field": "series", "type": "nominal", "legend": null, "scale": {"domain": ["June 2022","June 2022 Rivers","August 2021","August 2021 Rivers","July 2022","July 2022 Rivers","July 2023","July 2023 Rivers","October 2022","October 2022 Rivers","Beaufort Shelf Mixing"], "range": ["circle","square","triangle-right","square","triangle-up","square","triangle-down","square","M0,-1L0.86,0L0,1L-0.86,0Z","square","M-1,0H1M0,-1V1"]}},
                    "stroke": {"field": "series", "type": "nominal", "legend": null, "scale": {"domain": ["June 2022","June 2022 Rivers","August 2021","August 2021 Rivers","July 2022","July 2022 Rivers","July 2023","July 2023 Rivers","October 2022","October 2022 Rivers","Beaufort Shelf Mixing"], "range": ["#B00D42","#A01048","#2A5E2A","#3A7A3A","#5EBE69","#74D67E","#2F8F39","#45B04F","#2D4B96","#3B5796","#000000"]}}
                  }
                },
                {
                  "data": {"name": "letters"},
                  "transform": [{"filter": "datum.panel === 'd'"}],
                  "mark": {"type": "text", "font": "Lato", "fontSize": 25, "align": "left", "baseline": "alphabetic", "color": "#000000"},
                  "encoding": {"x": {"datum": 2.36, "type": "quantitative"}, "y": {"datum": 23.4, "type": "quantitative"}, "text": {"field": "letter"}}
                }
              ]
            }
          ],
          "spacing": 30
        }
      ],
      "spacing": 22
    },
    {
      "width": 228.8,
      "height": 631.2,
      "data": {"name": "legend"},
      "encoding": {
        "y": {"field": "key", "type": "nominal", "axis": null, "scale": {"type": "point", "padding": 0.74, "domain": ["t1","t2","t3","t4","t5","t6","t7","t8","t9","t10","t11","t12","t13","t14","t15","t16","t17","t18","t19","t20","t21","t22","Legend","y1","y2","y3","y4","y5","June 2022","y7","y8","y9","June 2022 Rivers","y11","y12","y13","y14","y15","y16","y17","August 2021","y19","y20","y21","August 2021 Rivers","y23","y24","y25","July 2022","y27","Summer","y29","July 2022 Rivers","y31","y32","y33","July 2023","y35","y36","y37","July 2023 Rivers","y39","y40","y41","y42","y43","y44","October 2022","y46","y47","y48","October 2022 Rivers","y50","y51","y52","y53","y54","Beaufort heading","y56","y57","y58","y59","Beaufort Shelf Mixing","y61","y62","y63","note line 2","y65","y66","y67","note line 3"]}}
      },
      "layer": [
        {
          "transform": [{"filter": "datum.tier === 'heading'"}],
          "mark": {"type": "text", "font": "Lato", "fontSize": 24, "fontWeight": "bold", "align": "left", "baseline": "middle", "dx": 4, "color": "#000000"},
          "encoding": {
            "x": {"datum": "note", "type": "nominal", "axis": null, "scale": {"type": "point", "padding": 0, "domain": ["note","main","x2","x3","indent","sub","x6","x7","x8","x9","x10","brace","x12","summer"]}},
            "text": {"field": "label"}
          }
        },
        {
          "transform": [{"filter": "datum.tier === 'heading'"}],
          "mark": {"type": "point", "shape": "M0.1,0.33H2.1", "size": 6561, "filled": false, "stroke": "#000000", "strokeWidth": 1.8, "opacity": 1},
          "encoding": {
            "x": {"datum": "note", "type": "nominal", "axis": null, "scale": {"type": "point", "padding": 0, "domain": ["note","main","x2","x3","indent","sub","x6","x7","x8","x9","x10","brace","x12","summer"]}}
          }
        },
        {
          "transform": [{"filter": "datum.tier === 'main' && datum.series !== 'Beaufort Shelf Mixing'"}],
          "mark": {"type": "point", "filled": true, "size": 500, "strokeWidth": 1, "opacity": 1},
          "encoding": {
            "x": {"field": "tier", "type": "nominal", "axis": null, "scale": {"type": "point", "padding": 0, "domain": ["note","main","x2","x3","indent","sub","x6","x7","x8","x9","x10","brace","x12","summer"]}},
            "shape": {"field": "series", "type": "nominal", "legend": null, "scale": {"domain": ["June 2022","June 2022 Rivers","August 2021","August 2021 Rivers","July 2022","July 2022 Rivers","July 2023","July 2023 Rivers","October 2022","October 2022 Rivers","Beaufort Shelf Mixing"], "range": ["circle","square","triangle-right","square","triangle-up","square","triangle-down","square","M0,-1L0.86,0L0,1L-0.86,0Z","square","M-1,0H1M0,-1V1"]}},
            "fill": {"field": "series", "type": "nominal", "legend": null, "scale": {"domain": ["June 2022","June 2022 Rivers","August 2021","August 2021 Rivers","July 2022","July 2022 Rivers","July 2023","July 2023 Rivers","October 2022","October 2022 Rivers","Beaufort Shelf Mixing"], "range": ["#C80F4B","transparent","#377837","transparent","#70CE7A","transparent","#3CAA46","transparent","#82A5E6","transparent","transparent"]}},
            "stroke": {"field": "series", "type": "nominal", "legend": null, "scale": {"domain": ["June 2022","June 2022 Rivers","August 2021","August 2021 Rivers","July 2022","July 2022 Rivers","July 2023","July 2023 Rivers","October 2022","October 2022 Rivers","Beaufort Shelf Mixing"], "range": ["#B00D42","#A01048","#2A5E2A","#3A7A3A","#5EBE69","#74D67E","#2F8F39","#45B04F","#2D4B96","#3B5796","#000000"]}}
          }
        },
        {
          "transform": [{"filter": "datum.tier === 'sub'"}],
          "mark": {"type": "point", "filled": false, "size": 441, "strokeWidth": 4, "opacity": 1},
          "encoding": {
            "x": {"field": "tier", "type": "nominal", "axis": null, "scale": {"type": "point", "padding": 0, "domain": ["note","main","x2","x3","indent","sub","x6","x7","x8","x9","x10","brace","x12","summer"]}},
            "shape": {"field": "series", "type": "nominal", "legend": null, "scale": {"domain": ["June 2022","June 2022 Rivers","August 2021","August 2021 Rivers","July 2022","July 2022 Rivers","July 2023","July 2023 Rivers","October 2022","October 2022 Rivers","Beaufort Shelf Mixing"], "range": ["circle","square","triangle-right","square","triangle-up","square","triangle-down","square","M0,-1L0.86,0L0,1L-0.86,0Z","square","M-1,0H1M0,-1V1"]}},
            "stroke": {"field": "series", "type": "nominal", "legend": null, "scale": {"domain": ["June 2022","June 2022 Rivers","August 2021","August 2021 Rivers","July 2022","July 2022 Rivers","July 2023","July 2023 Rivers","October 2022","October 2022 Rivers","Beaufort Shelf Mixing"], "range": ["#B00D42","#A01048","#2A5E2A","#3A7A3A","#5EBE69","#74D67E","#2F8F39","#45B04F","#2D4B96","#3B5796","#000000"]}}
          }
        },
        {
          "transform": [{"filter": "datum.series === 'Beaufort Shelf Mixing'"}],
          "mark": {"type": "point", "filled": false, "size": 400, "strokeWidth": 6, "strokeCap": "butt", "opacity": 1},
          "encoding": {
            "x": {"field": "tier", "type": "nominal", "axis": null, "scale": {"type": "point", "padding": 0, "domain": ["note","main","x2","x3","indent","sub","x6","x7","x8","x9","x10","brace","x12","summer"]}},
            "shape": {"field": "series", "type": "nominal", "legend": null, "scale": {"domain": ["June 2022","June 2022 Rivers","August 2021","August 2021 Rivers","July 2022","July 2022 Rivers","July 2023","July 2023 Rivers","October 2022","October 2022 Rivers","Beaufort Shelf Mixing"], "range": ["circle","square","triangle-right","square","triangle-up","square","triangle-down","square","M0,-1L0.86,0L0,1L-0.86,0Z","square","M-1,0H1M0,-1V1"]}},
            "stroke": {"field": "series", "type": "nominal", "legend": null, "scale": {"domain": ["June 2022","June 2022 Rivers","August 2021","August 2021 Rivers","July 2022","July 2022 Rivers","July 2023","July 2023 Rivers","October 2022","October 2022 Rivers","Beaufort Shelf Mixing"], "range": ["#B00D42","#A01048","#2A5E2A","#3A7A3A","#5EBE69","#74D67E","#2F8F39","#45B04F","#2D4B96","#3B5796","#000000"]}}
          }
        },
        {
          "transform": [{"filter": "datum.tier === 'main'"}],
          "mark": {"type": "text", "font": "Lato", "fontSize": 19, "align": "left", "baseline": "middle", "dx": 37, "color": "#111111"},
          "encoding": {
            "x": {"field": "tier", "type": "nominal", "axis": null, "scale": {"type": "point", "padding": 0, "domain": ["note","main","x2","x3","indent","sub","x6","x7","x8","x9","x10","brace","x12","summer"]}},
            "text": {"field": "label"}
          }
        },
        {
          "transform": [{"filter": "datum.tier === 'sub'"}],
          "mark": {"type": "text", "font": "Lato", "fontSize": 19, "align": "left", "baseline": "middle", "dx": 21, "color": "#111111"},
          "encoding": {
            "x": {"field": "tier", "type": "nominal", "axis": null, "scale": {"type": "point", "padding": 0, "domain": ["note","main","x2","x3","indent","sub","x6","x7","x8","x9","x10","brace","x12","summer"]}},
            "text": {"field": "label"}
          }
        },
        {
          "transform": [{"filter": "datum.tier === 'note' || datum.tier === 'indent'"}],
          "mark": {"type": "text", "font": "Lato", "fontSize": 19, "align": "left", "baseline": "middle", "dx": 1, "color": "#111111"},
          "encoding": {
            "x": {"field": "tier", "type": "nominal", "axis": null, "scale": {"type": "point", "padding": 0, "domain": ["note","main","x2","x3","indent","sub","x6","x7","x8","x9","x10","brace","x12","summer"]}},
            "text": {"field": "label"}
          }
        },
        {
          "transform": [{"filter": "datum.tier === 'group'"}],
          "mark": {"type": "text", "font": "Lato", "fontSize": 19, "align": "left", "baseline": "middle", "dx": 8, "color": "#111111"},
          "encoding": {
            "x": {"datum": "summer", "type": "nominal", "axis": null, "scale": {"type": "point", "padding": 0, "domain": ["note","main","x2","x3","indent","sub","x6","x7","x8","x9","x10","brace","x12","summer"]}},
            "text": {"field": "label"}
          }
        },
        {
          "transform": [{"filter": "datum.tier === 'group'"}],
          "mark": {"type": "point", "shape": "M-0.0775,-0.862C0.03,-0.862 0.0725,-0.84 0.0725,-0.77L0.0725,-0.03C0.0725,0.02 0.12,0.038 0.2325,0.038C0.12,0.038 0.0725,0.056 0.0725,0.106L0.0725,0.85C0.0725,0.92 0.03,0.938 -0.0775,0.938", "size": 40000, "filled": false, "stroke": "#333333", "strokeWidth": 1.2, "opacity": 1},
          "encoding": {
            "x": {"datum": "brace", "type": "nominal", "axis": null, "scale": {"type": "point", "padding": 0, "domain": ["note","main","x2","x3","indent","sub","x6","x7","x8","x9","x10","brace","x12","summer"]}}
          }
        }
      ]
    }
  ],
  "spacing": 61,
  "config": {
    "view": {"stroke": null},
    "font": "Liberation Sans",
    "axis": {
      "grid": false,
      "domainColor": "#808080",
      "domainWidth": 1,
      "tickColor": "#808080",
      "tickSize": -5,
      "labelFont": "Liberation Sans",
      "labelFontSize": 16.5,
      "labelColor": "#333333",
      "labelFlush": false,
      "titleFont": "Liberation Sans",
      "titleFontSize": 17,
      "titleFontWeight": "normal",
      "titleColor": "#333333"
    },
    "axisX": {"labelPadding": 15.5, "minExtent": 25, "maxExtent": 25, "titlePadding": 11},
    "axisY": {"labelPadding": 12.5, "minExtent": 26, "maxExtent": 26, "titlePadding": 6},
    "title": {"font": "Liberation Sans", "fontSize": 19, "fontWeight": "bold", "color": "#000000", "anchor": "middle", "frame": "group", "offset": 4}
  }
}
